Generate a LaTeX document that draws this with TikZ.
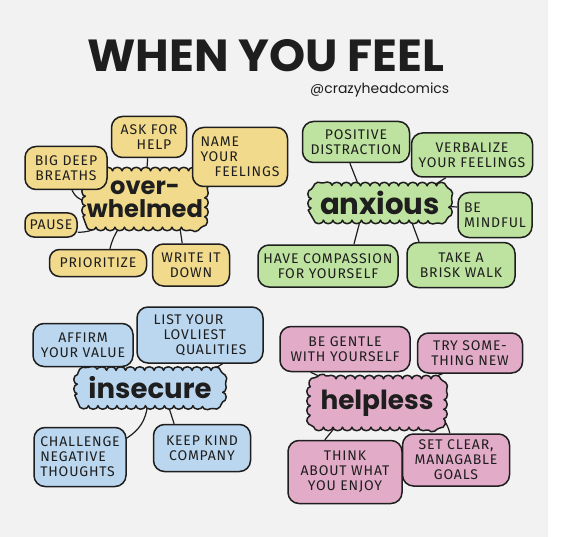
\documentclass[tikz,border=0pt]{standalone}
\usepackage{fontspec}
\setmainfont{Fira Sans}[LetterSpace=6]
\newfontfamily\titlefont{Poppins}
\usetikzlibrary{decorations.pathmorphing}
\pgfdeclarelayer{back}
\pgfdeclarelayer{conn}
\pgfdeclarelayer{mid}
\pgfsetlayers{back,conn,mid,main}
\definecolor{panel}{HTML}{F2F2F2}
\definecolor{ink}{HTML}{1E1E1E}
\definecolor{yel}{HTML}{F2DA8C}
\definecolor{grn}{HTML}{BEE3A0}
\definecolor{blu}{HTML}{BBD7EF}
\definecolor{pnk}{HTML}{E2ABC8}
\tikzset{
  lbl/.style={align=center, inner sep=0pt, text=ink, font=\fontsize{14}{15}\selectfont},
  bub/.style={lbl, draw=ink, line width=1.5pt, rounded corners=11pt},
  wordnode/.style={align=center, inner sep=0pt, text=ink},
  sz/.style 2 args={minimum width=#1pt, minimum height=#2pt},
  yb/.style={bub, fill=yel}, gb/.style={bub, fill=grn},
  bb/.style={bub, fill=blu}, pb/.style={bub, fill=pnk},
  conn/.style={draw=ink, line width=1.2pt},
  cloudpath/.style={draw=ink, line width=1.5pt, line join=round,
    decorate, decoration={bumps, segment length=19pt, amplitude=3.5pt}}
}
% #1 node name, #2 corner radius, #3 fill colour
\newcommand\cloudbox[3]{%
  \begin{pgfonlayer}{mid}
  \path[cloudpath, fill=#3]
    ([yshift=#2]#1.south west) -- ([yshift=-#2]#1.north west)
    arc[start angle=180, end angle=90, radius=#2] -- ([xshift=-#2]#1.north east)
    arc[start angle=90, end angle=0, radius=#2] -- ([yshift=#2]#1.south east)
    arc[start angle=0, end angle=-90, radius=#2] -- ([xshift=#2]#1.south west)
    arc[start angle=270, end angle=180, radius=#2] -- cycle;
  \end{pgfonlayer}}
\begin{document}
\begin{tikzpicture}[x=1pt,y=-1pt]
\useasboundingbox (0,0) rectangle (564,537);
\begin{pgfonlayer}{back}
\fill[white] (0,0) rectangle (564,537);
\fill[panel] (0,0) -- (503,0) arc[start angle=90, end angle=0, radius=45] -- (548,537) -- (0,537) -- cycle;
\end{pgfonlayer}

% title
\node[text=ink, inner sep=0pt] (title) at (266,56) {\resizebox{357pt}{32pt}{\titlefont\bfseries WHEN YOU FEEL}};
\node[text=ink, inner sep=0pt, anchor=west] (credit) at (310,90) {\resizebox{139pt}{!}{\titlefont @crazyheadcomics}};

% overwhelmed
\node[wordnode, sz={119}{56}] (ow) at (145,199) {\resizebox{116pt}{!}{\titlefont\bfseries\shortstack{over-\\[-1pt]whelmed}}};
\cloudbox{ow}{12pt}{yel}
\node[yb, sz={75}{41}] (ask) at (149,137) {ASK FOR\\\hspace*{10pt}HELP};
\node[yb, sz={82}{43}] (bdb) at (66,168) {BIG DEEP\\BREATHS};
\node[yb, sz={95}{59}, align=left] (nyf) at (240,157) {NAME\\YOUR\\\hspace*{14pt}FEELINGS};
\node[yb, sz={52}{24}, rounded corners=9pt] (pause) at (51,225) {PAUSE};
\node[yb, sz={97}{27}, rounded corners=10pt] (prior) at (98,263) {PRIORITIZE};
\node[yb, sz={77}{42}] (wid) at (191,265) {WRITE IT\\DOWN};

% anxious
\node[wordnode, sz={137}{34}] (ax) at (380,203) {\resizebox{120pt}{!}{\titlefont\bfseries anxious}};
\cloudbox{ax}{12pt}{grn}
\node[gb, sz={107}{41}] (pd) at (356,142) {POSITIVE\\DISTRACTION};
\node[gb, sz={121}{44}] (vyf) at (472,155) {VERBALIZE\\YOUR FEELINGS};
\node[gb, sz={74}{45}, align=left] (bm) at (495,215) {BE\\MINDFUL};
\node[gb, sz={140}{42}] (hc) at (328,266) {HAVE COMPASSION\\FOR YOURSELF};
\node[gb, sz={108}{45}] (tbw) at (461,265) {TAKE A\\BRISK WALK};

% insecure
\node[wordnode, sz={145}{35}] (ins) at (150,388) {\resizebox{123pt}{!}{\titlefont\bfseries insecure}};
\cloudbox{ins}{12pt}{blu}
\node[bb, sz={100}{43}] (ayv) at (83,345) {AFFIRM\\YOUR VALUE};
\node[bb, sz={126}{56}, align=left] (lyq) at (200,335) {LIST YOUR\\\hspace*{10pt}LOVLIEST\\\hspace*{22pt}QUALITIES};
\node[bb, sz={92}{59}, align=left] (cnt) at (80,457) {CHALLENGE\\NEGATIVE\\THOUGHTS};
\node[bb, sz={97}{47}] (kkc) at (202,448) {KEEP KIND\\COMPANY};

% helpless
\node[wordnode, sz={133}{48}] (hp) at (377,403) {\resizebox{113pt}{!}{\titlefont\bfseries helpless}};
\cloudbox{hp}{12pt}{pnk}
\node[pb, sz={130}{45}] (bg) at (345,349) {BE GENTLE\\WITH YOURSELF};
\node[pb, sz={105}{40}] (tsn) at (470,353) {TRY SOME-\\THING NEW};
\node[pb, sz={114}{63}] (taw) at (345,472) {THINK\\ABOUT WHAT\\YOU ENJOY};
\node[pb, sz={107}{52}] (scg) at (456,460) {SET CLEAR,\\MANAGABLE\\GOALS};

\begin{pgfonlayer}{conn}
\draw[conn] (ask) -- (ow);
\draw[conn] (bdb.-75) to[bend right=25] (ow.182);
\draw[conn] (nyf) -- (ow);
\draw[conn] (pause.-15) to[bend right=15] (ow.211);
\draw[conn] (prior.50) to[bend left=10] (ow.228);
\draw[conn] (wid.112) -- (ow.-39);
\draw[conn] (pd.-106) -- (ax.141);
\draw[conn] (vyf.-139) -- (ax.18);
\draw[conn] (bm.168) -- (ax.-3);
\draw[conn] (hc.40) -- (ax.-139);
\draw[conn] (tbw.151) -- (ax.-29);
\draw[conn] (ayv.-90) to[bend right=25] (ins.160);
\draw[conn] (lyq.-52) to[bend left=10] (ins.17);
\draw[conn] (cnt.22) to[bend right=25] (ins.-98);
\draw[conn] (kkc.139) -- (ins.-44);
\draw[conn] (bg.-146) -- (hp.155);
\draw[conn] (tsn.-143) -- (hp.25);
\draw[conn] (taw.122) -- (hp.-150);
\draw[conn] (scg.103) to[bend right=10] (hp.-14);
\end{pgfonlayer}
\end{tikzpicture}
\end{document}
